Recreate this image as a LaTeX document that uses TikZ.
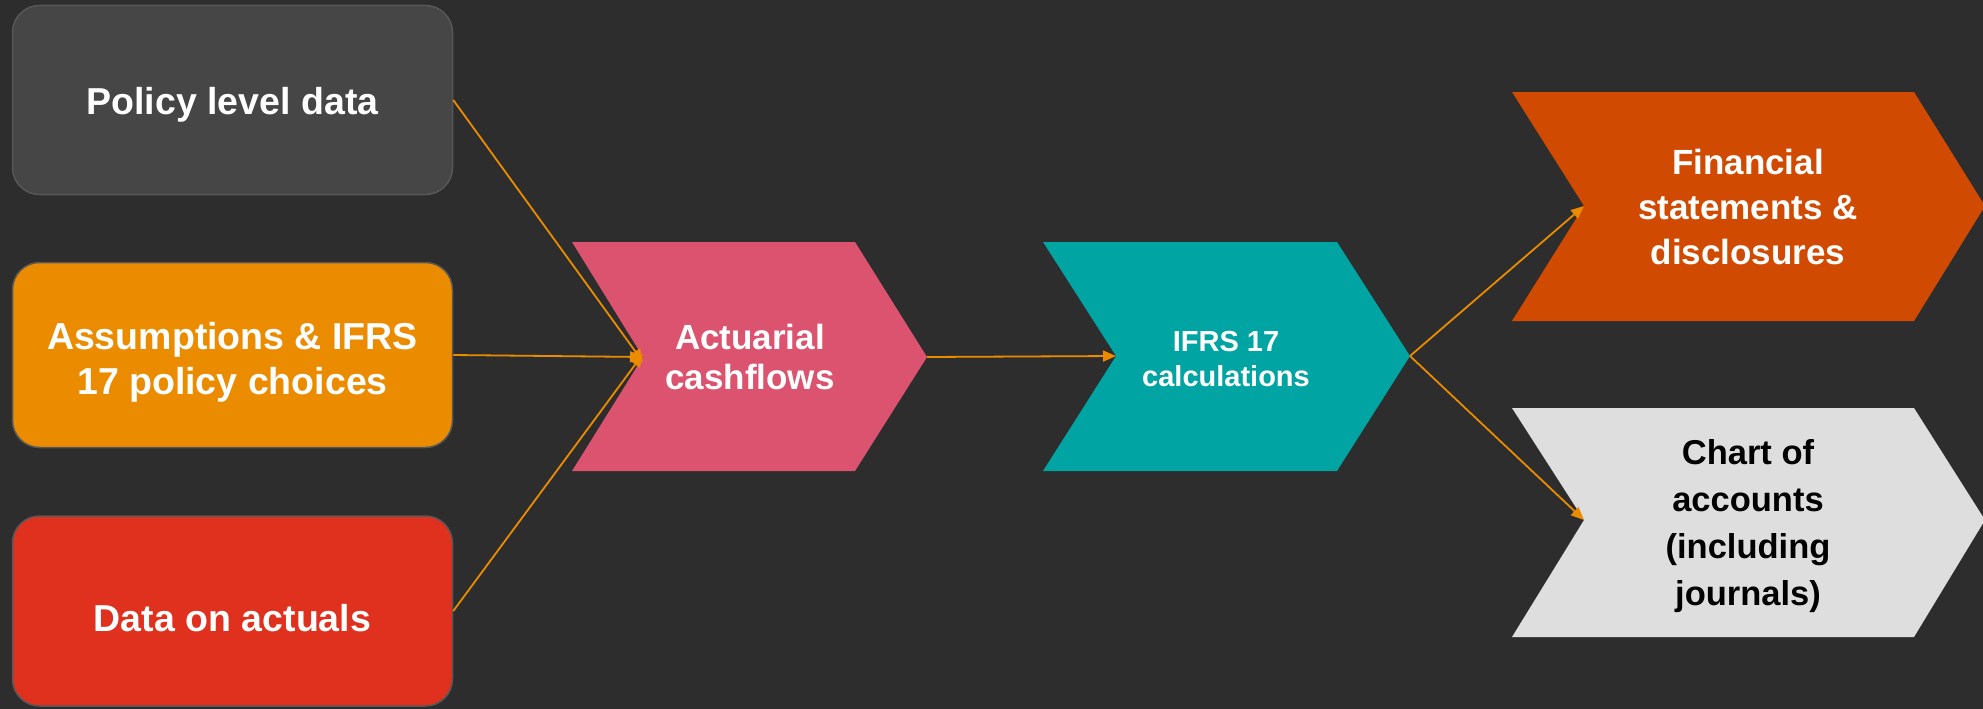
\documentclass[tikz,border=0pt]{standalone}
\usepackage{fontspec}
\setmainfont{Liberation Sans}
\usetikzlibrary{arrows.meta}
\definecolor{bg}{HTML}{2D2D2D}
\definecolor{boxgrey}{HTML}{464646}
\definecolor{boxorange}{HTML}{EB8C00}
\definecolor{boxred}{HTML}{E0301E}
\definecolor{boxedge}{HTML}{575757}
\definecolor{pink}{HTML}{DB536F}
\definecolor{teal}{HTML}{00A4A3}
\definecolor{rust}{HTML}{D04A02}
\definecolor{lightgrey}{HTML}{DEDEDE}
\definecolor{arrowc}{HTML}{EB8C00}
\tikzset{
  inbox/.style={rounded corners=27pt, draw=boxedge, line width=1.5pt, minimum width=440pt, inner sep=0pt},
  inlabel/.style={align=center, text=white, inner sep=0pt,
    font=\bfseries\fontsize{37.5}{45}\selectfont},
  chevlabel/.style={align=center, text=white, inner sep=0pt},
  flow/.style={draw=arrowc, line width=1.8pt, -{Triangle[length=13pt,width=11pt]}},
}
\begin{document}
\begin{tikzpicture}[x=1pt,y=-1pt]
\useasboundingbox (0,0) rectangle (1983,709);
\fill[bg] (0,0) rectangle (1983,709);
\begin{scope}
\clip (0,0) rectangle (1983,709);
% left boxes
\node[inbox, fill=boxgrey, minimum height=189pt] (policy) at (232.5,100) {};
\node[inlabel] (policylabel) at (232.5,105) {Policy level data};
\node[inbox, fill=boxorange, minimum height=185pt] (assume) at (232.5,355) {};
\node[inlabel] (assumelabel) at (232.5,362) {Assumptions \& IFRS\\17 policy choices};
\node[inbox, fill=boxred, minimum height=190pt] (actuals) at (232.5,611) {};
\node[inlabel] (actualslabel) at (232.5,618) {Data on actuals};
% chevrons
\fill[pink] (572,242) -- (855,242) -- (927,357) -- (855,471) -- (572,471) -- (643,357) -- cycle;
\coordinate (acN) at (643,357);
\coordinate (acT) at (927,357);
\node[chevlabel, font=\bfseries\fontsize{35}{40}\selectfont] (actlabel) at (750,357) {Actuarial\\cashflows};
\fill[teal] (1043,242) -- (1337,242) -- (1410,356) -- (1337,471) -- (1043,471) -- (1116,356) -- cycle;
\coordinate (ifN) at (1116,356);
\coordinate (ifT) at (1410,356);
\node[chevlabel, font=\bfseries\fontsize{29}{35}\selectfont] (iflabel) at (1226,359) {IFRS 17\\calculations};
\fill[rust] (1512,92) -- (1914,92) -- (1985,206) -- (1914,321) -- (1512,321) -- (1584,206) -- cycle;
\coordinate (fsN) at (1584,206);
\node[chevlabel, font=\bfseries\fontsize{35}{45}\selectfont] (fslabel) at (1748,207) {Financial\\statements \&\\disclosures};
\fill[lightgrey] (1512,408) -- (1914,408) -- (1985,520) -- (1914,637) -- (1512,637) -- (1584,520) -- cycle;
\coordinate (caN) at (1584,520);
\node[chevlabel, text=black, font=\bfseries\fontsize{34.5}{47}\selectfont] (calabel) at (1748,526) {Chart of\\accounts\\(including\\journals)};
% connectors
\draw[flow] (policy.east) -- ([yshift=-5pt]acN);
\draw[flow] (assume.east) -- (acN);
\draw[flow] (actuals.east) -- ([yshift=3pt]acN);
\draw[flow] (acT) -- (ifN);
\draw[flow] (ifT) -- (fsN);
\draw[flow] (ifT) -- (caN);
\end{scope}
\end{tikzpicture}
\end{document}
